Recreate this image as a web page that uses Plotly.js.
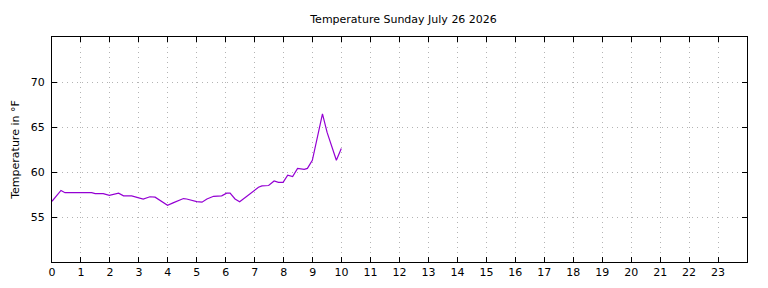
<!DOCTYPE html>
<html>
<head>
<meta charset="utf-8">
<script src="https://cdn.plot.ly/plotly-3.0.1.min.js"></script>
<style>html,body{margin:0;padding:0;background:#fff;}#chart{width:768px;height:288px;}</style>
</head>
<body>
<div id="chart"></div>
<script>
const hours = [0.0, 0.31, 0.45, 1.37, 1.49, 1.77, 1.98, 2.30, 2.47, 2.75, 3.15, 3.38, 3.56, 3.99, 4.20, 4.54, 4.65, 5.00, 5.18, 5.35, 5.58, 5.78, 5.86, 6.03, 6.15, 6.32, 6.48, 6.73, 6.96, 7.13, 7.25, 7.48, 7.67, 7.82, 7.98, 8.14, 8.31, 8.48, 8.71, 8.82, 8.99, 9.34, 9.50, 9.82, 9.99];
const temps = [56.75, 57.95, 57.7, 57.7, 57.6, 57.6, 57.4, 57.65, 57.35, 57.35, 57.0, 57.25, 57.2, 56.3, 56.6, 57.05, 57.0, 56.7, 56.65, 57.0, 57.3, 57.35, 57.35, 57.65, 57.65, 57.0, 56.7, 57.3, 57.85, 58.3, 58.45, 58.5, 59.0, 58.85, 58.85, 59.65, 59.5, 60.4, 60.3, 60.4, 61.3, 66.45, 64.4, 61.3, 62.6];
const xTicks = [0,1,2,3,4,5,6,7,8,9,10,11,12,13,14,15,16,17,18,19,20,21,22,23];
const yTicks = [55, 60, 65, 70];
const titleText = 'Temperature Sunday July 26 2026';
const yTitle = 'Temperature in °F';

const font = {family: 'DejaVu Sans, sans-serif', size: 11, color: '#000'};
Plotly.newPlot('chart', [{
  x: hours, y: temps, type: 'scatter', mode: 'lines',
  line: {color: '#9400d3', width: 1.2}, hoverinfo: 'skip'
}], {
  width: 768, height: 288,
  margin: {l: 52, r: 21, t: 37, b: 26, pad: 0},
  paper_bgcolor: '#fff', plot_bgcolor: '#fff',
  showlegend: false,
  font: font,
  title: {text: titleText, x: 0.5255, xanchor: 'center', y: 0.935, yanchor: 'middle', font: font},
  xaxis: {
    range: [0, 24], tickvals: xTicks, ticktext: xTicks.map(String),
    ticks: 'inside', ticklen: 5, tickwidth: 1, tickcolor: '#000',
    showline: true, linecolor: '#000', linewidth: 1, mirror: 'ticks',
    showgrid: true, gridcolor: '#b4b4b4', griddash: '1px,4px', gridwidth: 1,
    zeroline: false, tickfont: font, fixedrange: true
  },
  yaxis: {
    range: [50, 75], tickvals: yTicks, ticktext: yTicks.map(String),
    ticks: 'inside', ticklen: 5, tickwidth: 1, tickcolor: '#000',
    showline: true, linecolor: '#000', linewidth: 1, mirror: 'ticks',
    showgrid: true, gridcolor: '#b4b4b4', griddash: '1px,4px', gridwidth: 1,
    zeroline: false, tickfont: font, ticklabelstandoff: 4,
    title: {text: yTitle, font: font, standoff: 8}, fixedrange: true
  }
}, {displayModeBar: false, staticPlot: true});
</script>
</body>
</html>
